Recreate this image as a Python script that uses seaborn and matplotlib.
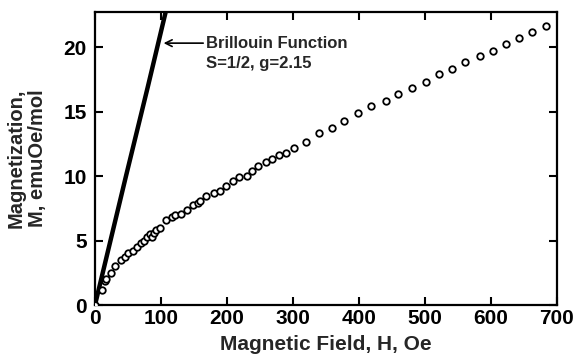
import matplotlib
matplotlib.use("Agg")
import matplotlib.pyplot as plt
import seaborn as sns
import pandas as pd

# Measured magnetization data (H in Oe, M in emuOe/mol)
field_H = [0, 10, 15, 17, 24, 30, 40, 45, 50, 57, 63, 69, 74, 79, 83, 86, 89, 92, 98,
           107, 116, 122, 130, 139, 149, 156, 159, 169, 180, 189, 198, 209, 218, 230,
           238, 247, 259, 269, 279, 290, 301, 320, 340, 360, 378, 398, 419, 441, 460,
           480, 501, 521, 541, 561, 583, 603, 623, 643, 663, 684]
magnet_M = [0.0, 1.15, 1.9, 2.0, 2.5, 3.0, 3.5, 3.7, 4.0, 4.2, 4.5, 4.8, 5.0, 5.25, 5.5,
            5.3, 5.55, 5.8, 5.95, 6.6, 6.85, 7.0, 7.05, 7.35, 7.75, 7.9, 8.1, 8.45, 8.7,
            8.86, 9.2, 9.6, 9.95, 10.0, 10.4, 10.8, 11.06, 11.3, 11.6, 11.8, 12.2, 12.66,
            13.3, 13.75, 14.25, 14.85, 15.4, 15.8, 16.36, 16.8, 17.3, 17.9, 18.3, 18.8,
            19.3, 19.7, 20.2, 20.7, 21.2, 21.6]

# Brillouin function curve (S=1/2, g=2.15)
brill_H = [0, 47, 80, 108, 115]
brill_M = [0.0, 10.0, 16.9, 22.9, 24.4]

x_ticks = [0, 100, 200, 300, 400, 500, 600, 700]
y_ticks = [0, 5, 10, 15, 20]

sns.set_style("ticks")
plt.rcParams['font.family'] = ['Liberation Sans', 'DejaVu Sans']
plt.rcParams['font.weight'] = 'bold'

fig = plt.figure(figsize=(5.74, 3.58), dpi=100)
ax = fig.add_axes([0.1655, 0.148, 0.8045, 0.818])

df = pd.DataFrame({"H": field_H, "M": magnet_M})
bdf = pd.DataFrame({"H": brill_H, "M": brill_M})

sns.lineplot(data=bdf, x="H", y="M", ax=ax, color="black", linewidth=3.2, sort=False)
sns.scatterplot(data=df, x="H", y="M", ax=ax, marker="o", s=22, facecolor="white",
                edgecolor="black", linewidth=1.3, zorder=3)

ax.set_xlim(0, 700)
ax.set_ylim(0, 22.7)
ax.set_xticks(x_ticks)
ax.set_yticks(y_ticks)
ax.tick_params(direction="in", length=6, width=1.5, top=True, right=True,
               labelsize=15, colors="black")
ax.tick_params(axis="y", pad=6)
ax.tick_params(axis="x", pad=3)
for lab in ax.get_xticklabels() + ax.get_yticklabels():
    lab.set_fontweight("bold")
for sp in ax.spines.values():
    sp.set_linewidth(1.6)
    sp.set_color("black")

ax.set_xlabel("Magnetic Field, H, Oe", fontsize=15, fontweight="bold", labelpad=5)
ax.set_ylabel("Magnetization,\nM, emuOe/mol", fontsize=14.5, fontweight="bold",
              labelpad=12, linespacing=1.15)

ax.annotate("Brillouin Function", xy=(104, 20.3), xytext=(169, 20.3),
            fontsize=12, fontweight="bold", ha="left", va="center",
            arrowprops=dict(arrowstyle="->", color="black", lw=1.2,
                            shrinkA=0, shrinkB=0))
ax.text(169, 18.75, "S=1/2, g=2.15", fontsize=12, fontweight="bold",
        ha="left", va="center")

fig.savefig("out.png", dpi=100)
